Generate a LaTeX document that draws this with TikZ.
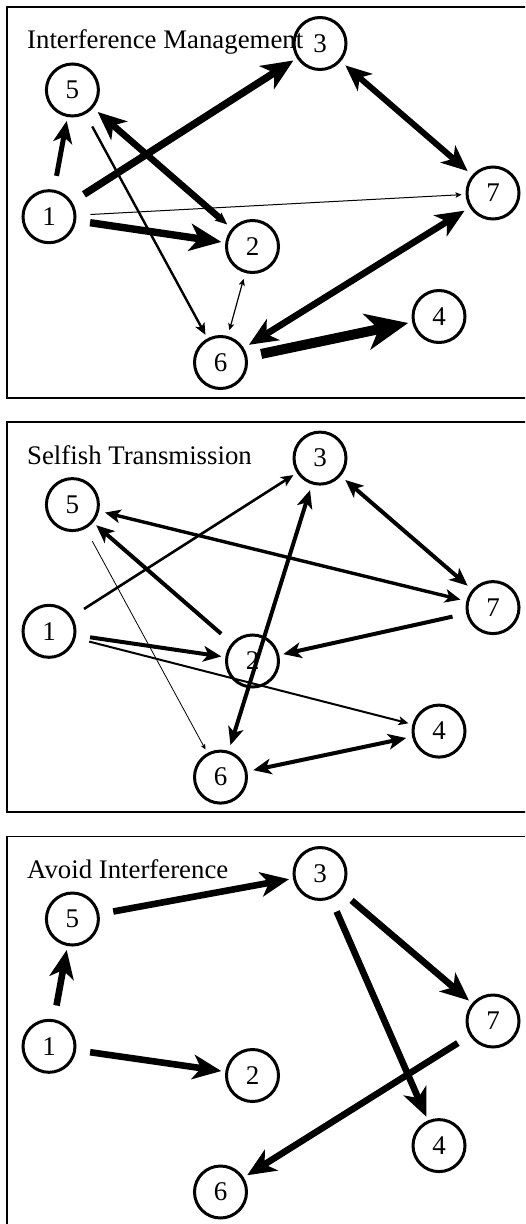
\documentclass[tikz,border=0pt]{standalone}
\usepackage{fontspec}
\setmainfont{Liberation Serif}
\usepackage{tikz}
\usetikzlibrary{arrows.meta}
\tikzset{>={Stealth[length = 1pt 4, width = 1pt 3.4, inset = 0pt 1.2]}}
\tikzset{usr/.style = {draw, circle, line width = 1.5pt, minimum size = 26pt, inner sep = 0, font = \fontsize{13.5}{15}\selectfont}}
\tikzset{heading/.style = {anchor = base west, inner sep = 0, font = \fontsize{13.4}{15}\selectfont}}
\tikzset{link/.style = {->, shorten <= 7pt, shorten >= 2pt}}
\tikzset{twoway/.style = {<->, shorten <= 3pt, shorten >= 3pt}}
\tikzset{frame/.style = {line width = 0.85pt}}

\begin{document}
\begin{tikzpicture}[x = 0.5pt, y = -0.5pt]
      \useasboundingbox (0, 0) rectangle (525, 1224);
      \clip (0, 0) rectangle (525, 1224);

      \draw [frame] (7.3, 7.3) rectangle (540, 397.7);
      \node [heading] (ta) at (26.8, 48.5) {Interference Management};
      \node [usr] (a1) at (49, 216.7) {1};
      \node [usr] (a2) at (252.5, 246.5) {2};
      \node [usr] (a3) at (320, 43.5) {3};
      \node [usr] (a4) at (439, 316.5) {4};
      \node [usr] (a5) at (72.4, 90) {5};
      \node [usr] (a6) at (220.5, 362.5) {6};
      \node [usr] (a7) at (493, 193) {7};
      \draw [link, line width = 2.5pt] (a1) -- (a5);
      \draw [link, line width = 3.7pt] (a1) -- (a3);
      \draw [twoway, line width = 3.3pt, arrows = {Stealth[length = 6pt, width = 5pt, inset = 1pt]->}] (a2) -- (a5);
      \draw [link, line width = 1.2pt] (a5) -- (a6);
      \draw [link, line width = 0.5pt] (a1) -- (a7);
      \draw [link, line width = 3.7pt] (a1) -- (a2);
      \draw [twoway, line width = 0.6pt] (a2) -- (a6);
      \draw [twoway, line width = 3pt] (a3) -- (a7);
      \draw [twoway, line width = 3.3pt] (a7) -- (a6);
      \draw [link, line width = 5pt] (a6) -- (a4);

      \draw [frame] (7.3, 421.9) rectangle (540, 812.3);
      \node [heading] (tb) at (26.8, 464.6) {Selfish Transmission};
      \node [usr] (b1) at (49, 631.3) {1};
      \node [usr] (b2) at (252.5, 661) {2};
      \node [usr] (b3) at (320, 458.1) {3};
      \node [usr] (b4) at (439, 731.1) {4};
      \node [usr] (b5) at (72.4, 504.6) {5};
      \node [usr] (b6) at (220.5, 777.1) {6};
      \node [usr] (b7) at (493, 607.6) {7};
      \draw [link, line width = 1.3pt] (b1) -- (b3);
      \draw [link, line width = 2pt] (b2) -- (b5);
      \draw [twoway, line width = 1.7pt] (b7) -- (b5);
      \draw [twoway, line width = 2pt] (b3) -- (b7);
      \draw [twoway, line width = 2pt] (b3) -- (b6);
      \draw [link, line width = 2pt] (b1) -- (b2);
      \draw [link, line width = 1pt] (b1) -- (b4);
      \draw [link, line width = 0.4pt] (b5) -- (b6);
      \draw [link, line width = 2pt] (b7) -- (b2);
      \draw [twoway, line width = 2pt] (b6) -- (b4);

      \draw [frame] (7.3, 836.5) rectangle (540, 1240);
      \node [heading] (tc) at (26.8, 878.6) {Avoid Interference};
      \node [usr] (c1) at (49, 1046.3) {1};
      \node [usr] (c2) at (252.5, 1075.5) {2};
      \node [usr] (c3) at (320, 873.5) {3};
      \node [usr] (c4) at (439, 1145.6) {4};
      \node [usr] (c5) at (72.4, 919) {5};
      \node [usr] (c6) at (220.5, 1192) {6};
      \node [usr] (c7) at (493, 1021) {7};
      \draw [link, line width = 3.3pt] (c1) -- (c5);
      \draw [link, line width = 3.3pt] (c5) -- (c3);
      \draw [link, line width = 3.3pt] (c1) -- (c2);
      \draw [link, line width = 3.3pt] (c3) -- (c7);
      \draw [link, line width = 3.3pt] (c3) -- (c4);
      \draw [link, line width = 3.3pt] (c7) -- (c6);
    \end{tikzpicture}
\end{document}
